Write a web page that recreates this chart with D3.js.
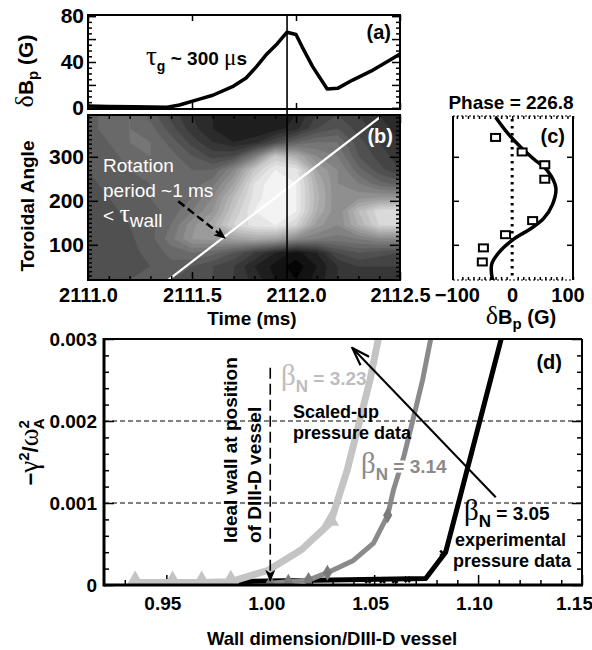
<!DOCTYPE html>
<html><head><meta charset="utf-8">
<script src="https://cdn.jsdelivr.net/npm/d3@7"></script>
<style>
body{margin:0;background:#fff;}
</style></head><body>
<svg id="fig" width="592" height="650" xmlns="http://www.w3.org/2000/svg"></svg>
<script>
// ================= DATA =================
// Panel (a): perturbed poloidal field vs time
const aTime  = [2111.00, 2111.10, 2111.22, 2111.38, 2111.44, 2111.54, 2111.60, 2111.70, 2111.76, 2111.81, 2111.86, 2111.91, 2111.957, 2112.00, 2112.03, 2112.08, 2112.15, 2112.20, 2112.27, 2112.36, 2112.45, 2112.50];
const aField = [1.6, 1.2, 0.9, 0.6, 2.5, 7.8, 11, 19, 26, 36, 47, 56, 66, 64, 53, 36, 16.5, 17, 24, 32, 41.5, 47];
const aYTicks = [0, 40, 80];
const timeTicks = [2111.0, 2111.5, 2112.0, 2112.5];
const markTime = 2111.957;

// Panel (b): contour map of dBp (normalised) vs time and toroidal angle
const bTimes  = [2111.0, 2111.1, 2111.2, 2111.3, 2111.4, 2111.5, 2111.6, 2111.7, 2111.8, 2111.9, 2112.0, 2112.1, 2112.2, 2112.3, 2112.4, 2112.5];
const bAngles = [20, 51.25, 82.5, 113.75, 145, 176.25, 207.5, 238.75, 270, 301.25, 332.5, 363.75, 395];
const bLevels = [
  [0.33,0.34,0.35,0.35,0.35,0.32,0.30,0.25,0.18,0.10,0.05,0.12,0.20,0.22,0.22,0.22],
  [0.32,0.33,0.34,0.35,0.38,0.35,0.30,0.25,0.15,0.08,0.02,0.10,0.20,0.25,0.25,0.25],
  [0.30,0.32,0.34,0.36,0.42,0.45,0.42,0.35,0.25,0.15,0.08,0.15,0.30,0.35,0.32,0.30],
  [0.30,0.32,0.34,0.38,0.48,0.60,0.62,0.65,0.68,0.65,0.55,0.50,0.48,0.50,0.55,0.55],
  [0.32,0.33,0.35,0.38,0.45,0.58,0.68,0.85,0.92,0.95,0.85,0.62,0.55,0.70,0.85,0.85],
  [0.32,0.34,0.36,0.38,0.42,0.50,0.60,0.80,0.95,1.00,0.95,0.70,0.55,0.75,0.88,0.90],
  [0.33,0.35,0.37,0.40,0.42,0.45,0.55,0.75,0.92,1.00,0.95,0.72,0.55,0.58,0.60,0.60],
  [0.34,0.36,0.38,0.40,0.42,0.42,0.48,0.65,0.90,1.00,0.95,0.70,0.55,0.50,0.42,0.38],
  [0.35,0.38,0.40,0.42,0.42,0.40,0.40,0.55,0.80,0.95,0.92,0.65,0.55,0.42,0.32,0.25],
  [0.36,0.38,0.42,0.45,0.42,0.35,0.28,0.30,0.50,0.80,0.70,0.55,0.50,0.35,0.28,0.22],
  [0.36,0.40,0.45,0.45,0.38,0.28,0.20,0.15,0.18,0.30,0.40,0.45,0.45,0.32,0.25,0.20],
  [0.38,0.42,0.45,0.42,0.32,0.22,0.15,0.10,0.10,0.12,0.18,0.30,0.35,0.28,0.22,0.18],
  [0.38,0.42,0.45,0.38,0.28,0.20,0.15,0.10,0.10,0.12,0.15,0.25,0.30,0.25,0.20,0.15]
];
const angleTicks = [100, 200, 300];
const rotLineTime  = [2111.385, 2112.404];
const rotLineAngle = [20, 390];
const rotArrowTime  = [2111.434, 2111.659];
const rotArrowAngle = [199, 115];

// Panel (c): probe signals vs toroidal angle with sinusoid fit
const cProbeAngle = [344, 311, 282, 249, 155, 123, 93, 61];
const cProbeField = [-30, 18, 59, 59, 37, -12, -52, -54];
const cFitAngle = [15, 31, 56, 84, 114, 137, 160, 192, 229, 268, 295, 321, 352, 390];
const cFitField = [-34, -37, -37, -23, 4, 34, 57, 73, 79, 64, 39, 16, -7, -30];
const cXTicks = [-100, 0, 100];

// Panel (d): growth rate vs wall position
const d323X = [0.935, 0.953, 0.967, 0.981, 0.999, 1.015, 1.029, 1.037, 1.043, 1.048, 1.052];
const d323Y = [0.00003, 0.00003, 0.00003, 0.00004, 0.00018, 0.00043, 0.00076, 0.0014, 0.0020, 0.0025, 0.0030];
const d323Marks = [0, 1, 2, 3, 6];
const d314X = [1.000, 1.0087, 1.0184, 1.0275, 1.040, 1.0497, 1.0565, 1.0593, 1.0642, 1.069, 1.0733, 1.0772];
const d314Y = [0.00002, 0.00004, 0.00006, 0.00015, 0.0003, 0.00051, 0.00085, 0.00116, 0.00156, 0.00205, 0.0025, 0.003];
const d314Marks = [0, 1, 2, 3, 6];
const d305X = [0.935, 1.0748, 1.0844, 1.1111];
const d305Y = [0.00002, 0.00008, 0.0004, 0.003];
const d305MarkX = [1.047, 1.054, 1.060, 1.066, 1.083];
const d305MarkY = [0.00002, 0.00002, 0.00002, 0.00003, 0.00035];
const dXTicks = [0.95, 1.00, 1.05, 1.10, 1.15];
const dYTicks = [0, 0.001, 0.002, 0.003];
const dGrid = [0.001, 0.002];
const wallX = 1.00, wallTop = 0.00265, wallBottom = 0.00005;
const scaleArrowX = [1.1085, 1.0395], scaleArrowY = [0.00107, 0.00289];

// ================= SETUP =================
const FONT = '"Liberation Sans", Arial, Helvetica, sans-serif';
const SERIF = '"Liberation Serif", "Times New Roman", serif';
const svg = d3.select("#fig");
svg.append("rect").attr("width", 592).attr("height", 650).attr("fill", "#fff");

const A = {l: 88, r: 400, t: 15, b: 109};
const B = {l: 88, r: 400, t: 115, b: 280};
const C = {l: 453, r: 573, t: 116, b: 280};
const D = {l: 104, r: 582, t: 339, b: 585};

const xT = d3.scaleLinear().domain([2111.0, 2112.5]).range([A.l, A.r]);
const yA = d3.scaleLinear().domain([-1, 81]).range([A.b, A.t]);
const yB = d3.scaleLinear().domain([20, 395]).range([B.b, B.t]);
const xC = d3.scaleLinear().domain([-107, 110]).range([C.l, C.r]);
const yC = d3.scaleLinear().domain([20, 395]).range([280, 115]);
const xD = d3.scaleLinear().domain([0.92, 1.15]).range([D.l, D.r]);
const yD = d3.scaleLinear().domain([0, 0.003]).range([D.b, D.t]);

const defs = svg.append("defs");
function clip(id, box) {
  defs.append("clipPath").attr("id", id).append("rect")
    .attr("x", box.l).attr("y", box.t).attr("width", box.r - box.l).attr("height", box.b - box.t);
}
clip("clipA", A); clip("clipB", B); clip("clipC", C); clip("clipD", D);
defs.append("marker").attr("id", "headFill").attr("viewBox", "0 0 12 10")
  .attr("refX", 11).attr("refY", 5).attr("markerWidth", 12).attr("markerHeight", 10)
  .attr("markerUnits", "userSpaceOnUse").attr("orient", "auto")
  .append("path").attr("d", "M0,0 L12,5 L0,10 L3,5 Z").attr("fill", "#000");
defs.append("marker").attr("id", "headOpen").attr("viewBox", "0 0 20 14")
  .attr("refX", 19).attr("refY", 7).attr("markerWidth", 20).attr("markerHeight", 14)
  .attr("markerUnits", "userSpaceOnUse").attr("orient", "auto")
  .append("path").attr("d", "M1,1 L19,7 L1,13").attr("fill", "none").attr("stroke", "#000").attr("stroke-width", 2.2);

function range(a, b, s) { const out = []; for (let v = a; v <= b + s * 1e-6; v += s) out.push(+v.toFixed(6)); return out; }
function minus(arr, ex) { return arr.filter(v => !ex.some(e => Math.abs(e - v) < 1e-9)); }

function axis(gen, tx, ty, fs) {
  const g = svg.append("g").attr("transform", `translate(${tx},${ty})`).call(gen);
  g.attr("font-family", FONT).attr("font-size", fs || 10).attr("font-weight", "bold");
  g.select(".domain").remove();
  g.selectAll(".tick line").attr("stroke", "#000").attr("stroke-width", 1.5);
  g.selectAll(".tick text").attr("fill", "#000");
  return g;
}

// ================= PANEL (a) =================
const aMinorY = minus(range(0, 80, 5), range(0, 80, 20));
const tMinor = minus(range(2111.0, 2112.5, 0.1), timeTicks);
axis(d3.axisLeft(yA).tickValues(aYTicks).tickSize(-8).tickPadding(4).tickFormat(d3.format("d")), A.l, 0, 21);
axis(d3.axisLeft(yA).tickValues([20, 60]).tickSize(-8).tickFormat(""), A.l, 0);
axis(d3.axisLeft(yA).tickValues(aMinorY).tickSize(-4).tickFormat(""), A.l, 0);
axis(d3.axisRight(yA).tickValues(range(0, 80, 20)).tickSize(-8).tickFormat(""), A.r, 0);
axis(d3.axisRight(yA).tickValues(aMinorY).tickSize(-4).tickFormat(""), A.r, 0);
axis(d3.axisTop(xT).tickValues(timeTicks).tickSize(-6).tickFormat(""), 0, A.t);
axis(d3.axisBottom(xT).tickValues(timeTicks).tickSize(-6).tickFormat(""), 0, A.b);

svg.append("path").datum(aTime.map((t, i) => [t, aField[i]]))
  .attr("clip-path", "url(#clipA)")
  .attr("d", d3.line().x(d => xT(d[0])).y(d => yA(d[1])))
  .attr("fill", "none").attr("stroke", "#000").attr("stroke-width", 3.5).attr("stroke-linejoin", "round");

svg.append("rect").attr("x", A.l).attr("y", A.t).attr("width", A.r - A.l).attr("height", A.b - A.t)
  .attr("fill", "none").attr("stroke", "#000").attr("stroke-width", 2);

{
  const t = svg.append("text").attr("x", 146).attr("y", 65).attr("fill", "#000");
  t.append("tspan").attr("font-family", SERIF).attr("font-size", 27).text("τ");
  t.append("tspan").attr("font-family", FONT).attr("font-weight", "bold").attr("font-size", 14).attr("dy", 6).text("g");
  t.append("tspan").attr("font-family", FONT).attr("font-weight", "bold").attr("font-size", 19).attr("dy", -6).text(" ~ 300 ");
  t.append("tspan").attr("font-family", SERIF).attr("font-size", 23).text("μ");
  t.append("tspan").attr("font-family", FONT).attr("font-weight", "bold").attr("font-size", 19).text("s");
}
svg.append("text").attr("x", 391).attr("y", 39).attr("text-anchor", "end")
  .attr("font-family", FONT).attr("font-weight", "bold").attr("font-size", 20).text("(a)");
{
  const t = svg.append("text").attr("transform", "translate(33,71) rotate(-90)").attr("text-anchor", "middle");
  t.append("tspan").attr("font-family", SERIF).attr("font-size", 26).text("δ");
  t.append("tspan").attr("font-family", FONT).attr("font-weight", "bold").attr("font-size", 21).text("B");
  t.append("tspan").attr("font-family", FONT).attr("font-weight", "bold").attr("font-size", 15).attr("dy", 5).text("p");
  t.append("tspan").attr("font-family", FONT).attr("font-weight", "bold").attr("font-size", 21).attr("dy", -5).text(" (G)");
}

// ================= PANEL (b) =================
{
  const nx = bTimes.length, ny = bAngles.length;
  const flat = [];
  for (let j = 0; j < ny; j++) for (let i = 0; i < nx; i++) flat.push(bLevels[j][i]);
  const dt = bTimes[1] - bTimes[0], da = bAngles[1] - bAngles[0];
  const thr = range(0, 1.0, 0.05);
  const cs = d3.contours().size([nx, ny]).thresholds(thr)(flat);
  const proj = d3.geoTransform({point(x, y) { this.stream.point(xT(bTimes[0] + (x - 0.5) * dt), yB(bAngles[0] + (y - 0.5) * da)); }});
  const path = d3.geoPath(proj);
  const gray = v => { const g = Math.round(Math.min(250, 5 + v * 250)); return `rgb(${g},${g},${g})`; };
  const gb = svg.append("g").attr("clip-path", "url(#clipB)");
  gb.append("rect").attr("x", B.l).attr("y", B.t).attr("width", B.r - B.l).attr("height", B.b - B.t).attr("fill", gray(0.3));
  gb.selectAll("path.ct").data(cs).join("path").attr("class", "ct")
    .attr("d", path).attr("fill", d => gray(d.value)).attr("stroke", d => gray(d.value)).attr("stroke-width", 0.6);
  gb.append("line")
    .attr("x1", xT(rotLineTime[0])).attr("y1", yB(rotLineAngle[0]))
    .attr("x2", xT(rotLineTime[1])).attr("y2", yB(rotLineAngle[1]))
    .attr("stroke", "#fff").attr("stroke-width", 2.2);
}
svg.append("line")
  .attr("x1", xT(rotArrowTime[0])).attr("y1", yB(rotArrowAngle[0]))
  .attr("x2", xT(rotArrowTime[1])).attr("y2", yB(rotArrowAngle[1]))
  .attr("stroke", "#000").attr("stroke-width", 2.5).attr("stroke-dasharray", "8,4")
  .attr("marker-end", "url(#headFill)");

const angMinor = minus(range(30, 390, 10), angleTicks);
axis(d3.axisLeft(yB).tickValues(angleTicks).tickSize(-10).tickPadding(4).tickFormat(d3.format("d")), B.l, 0, 21);
axis(d3.axisLeft(yB).tickValues(angMinor).tickSize(-4).tickFormat(""), B.l, 0);
axis(d3.axisRight(yB).tickValues(angleTicks).tickSize(-10).tickFormat(""), B.r, 0);
axis(d3.axisRight(yB).tickValues(angMinor).tickSize(-4).tickFormat(""), B.r, 0);
axis(d3.axisBottom(xT).tickValues(timeTicks).tickSize(-8).tickPadding(8).tickFormat(d3.format(".1f")), 0, B.b, 20);
axis(d3.axisBottom(xT).tickValues(tMinor).tickSize(-4).tickFormat(""), 0, B.b);
axis(d3.axisTop(xT).tickValues(timeTicks).tickSize(-8).tickFormat(""), 0, B.t);
axis(d3.axisTop(xT).tickValues(tMinor).tickSize(-4).tickFormat(""), 0, B.t);

svg.append("rect").attr("x", B.l).attr("y", B.t).attr("width", B.r - B.l).attr("height", B.b - B.t)
  .attr("fill", "none").attr("stroke", "#000").attr("stroke-width", 2);

// vertical time marker through (a) and (b)
svg.append("line").attr("x1", xT(markTime)).attr("x2", xT(markTime)).attr("y1", A.t).attr("y2", B.b)
  .attr("stroke", "#000").attr("stroke-width", 1.6);

{
  const t = svg.append("text").attr("font-family", FONT).attr("font-size", 19).attr("fill", "#fff");
  t.append("tspan").attr("x", 103).attr("y", 172).text("Rotation");
  t.append("tspan").attr("x", 103).attr("y", 197).text("period ~1 ms");
  t.append("tspan").attr("x", 103).attr("y", 222).text("< ");
  t.append("tspan").attr("font-family", SERIF).attr("font-size", 26).text("τ");
  t.append("tspan").attr("dy", 5).text("wall");
}
svg.append("text").attr("x", 393).attr("y", 143).attr("text-anchor", "end").attr("fill", "#fff")
  .attr("font-family", FONT).attr("font-weight", "bold").attr("font-size", 20).text("(b)");
svg.append("text").attr("transform", "translate(34,206) rotate(-90)").attr("text-anchor", "middle")
  .attr("font-family", FONT).attr("font-weight", "bold").attr("font-size", 19).text("Toroidal Angle");
svg.append("text").attr("x", 252).attr("y", 325).attr("text-anchor", "middle")
  .attr("font-family", FONT).attr("font-weight", "bold").attr("font-size", 19).text("Time (ms)");

// ================= PANEL (c) =================
svg.append("line").attr("x1", xC(0)).attr("x2", xC(0)).attr("y1", C.t + 3).attr("y2", C.b - 3)
  .attr("stroke", "#000").attr("stroke-width", 3).attr("stroke-dasharray", "2.5,4.5");
svg.append("path").datum(cFitAngle.map((a, i) => [cFitField[i], a]))
  .attr("clip-path", "url(#clipC)")
  .attr("d", d3.line().curve(d3.curveCatmullRom).x(d => xC(d[0])).y(d => yC(d[1])))
  .attr("fill", "none").attr("stroke", "#000").attr("stroke-width", 3.5);
svg.selectAll("rect.probe").data(cProbeAngle).join("rect").attr("class", "probe")
  .attr("x", (d, i) => xC(cProbeField[i]) - 4.5).attr("y", d => yC(d) - 3.5)
  .attr("width", 9).attr("height", 7).attr("fill", "#fff").attr("stroke", "#000").attr("stroke-width", 2);

const cMinor = minus(range(-100, 110, 10), cXTicks);
axis(d3.axisBottom(xC).tickValues(cXTicks).tickSize(0).tickPadding(8).tickFormat(d => d < 0 ? "−" + Math.abs(d) : d), 0, C.b, 20);
axis(d3.axisBottom(xC).tickValues(cMinor).tickSize(-3).tickFormat(""), 0, C.b);
axis(d3.axisTop(xC).tickValues(cMinor.concat(cXTicks)).tickSize(-3).tickFormat(""), 0, C.t);
axis(d3.axisLeft(yC).tickValues(angleTicks).tickSize(-6).tickFormat(""), C.l, 0);
axis(d3.axisRight(yC).tickValues(angleTicks).tickSize(-6).tickFormat(""), C.r, 0);
svg.append("line").attr("x1", C.l).attr("x2", C.r).attr("y1", C.t).attr("y2", C.t).attr("stroke", "#000").attr("stroke-width", 1).attr("stroke-dasharray", "2,2");
svg.append("line").attr("x1", C.l).attr("x2", C.r).attr("y1", C.b).attr("y2", C.b).attr("stroke", "#000").attr("stroke-width", 1).attr("stroke-dasharray", "2,2");
svg.append("line").attr("x1", C.l).attr("x2", C.l).attr("y1", C.t).attr("y2", C.b).attr("stroke", "#000").attr("stroke-width", 2);
svg.append("line").attr("x1", C.r).attr("x2", C.r).attr("y1", C.t).attr("y2", C.b).attr("stroke", "#000").attr("stroke-width", 2);

svg.append("text").attr("x", 565).attr("y", 143).attr("text-anchor", "end")
  .attr("font-family", FONT).attr("font-weight", "bold").attr("font-size", 20).text("(c)");
svg.append("text").attr("x", 511).attr("y", 109).attr("text-anchor", "middle")
  .attr("font-family", FONT).attr("font-weight", "bold").attr("font-size", 19).text("Phase = 226.8");
{
  const t = svg.append("text").attr("x", 521).attr("y", 324).attr("text-anchor", "middle");
  t.append("tspan").attr("font-family", SERIF).attr("font-size", 26).text("δ");
  t.append("tspan").attr("font-family", FONT).attr("font-weight", "bold").attr("font-size", 20).text("B");
  t.append("tspan").attr("font-family", FONT).attr("font-weight", "bold").attr("font-size", 15).attr("dy", 5).text("p");
  t.append("tspan").attr("font-family", FONT).attr("font-weight", "bold").attr("font-size", 20).attr("dy", -5).text(" (G)");
}

// ================= PANEL (d) =================
svg.selectAll("line.dgrid").data(dGrid).join("line").attr("class", "dgrid")
  .attr("x1", D.l).attr("x2", D.r).attr("y1", d => yD(d)).attr("y2", d => yD(d))
  .attr("stroke", "#000").attr("stroke-width", 1).attr("stroke-dasharray", "5,3");

const dMinorY = minus(range(0, 0.003, 0.0002), dYTicks);
const dMinorX = minus(range(0.93, 1.15, 0.01), dXTicks);
axis(d3.axisLeft(yD).tickValues(dYTicks).tickSize(-10).tickPadding(7).tickFormat(d => d === 0 ? "0" : d3.format(".3f")(d)), D.l, 0, 19);
axis(d3.axisLeft(yD).tickValues(dMinorY).tickSize(-5).tickFormat(""), D.l, 0);
axis(d3.axisRight(yD).tickValues(dYTicks).tickSize(-10).tickFormat(""), D.r, 0);
axis(d3.axisRight(yD).tickValues(dMinorY).tickSize(-5).tickFormat(""), D.r, 0);
const dxAx = axis(d3.axisBottom(xD).tickValues(dXTicks).tickSize(-10).tickPadding(12).tickFormat(d3.format(".2f")), 0, D.b, 19);
dxAx.selectAll(".tick text").attr("dx", (d, i) => i === dXTicks.length - 1 ? -8 : -4);
axis(d3.axisBottom(xD).tickValues(dMinorX).tickSize(-5).tickFormat(""), 0, D.b);

const dLine = d3.line().x(d => xD(d[0])).y(d => yD(d[1]));
const gD = svg.append("g").attr("clip-path", "url(#clipD)");
gD.append("path").datum(d305X.map((x, i) => [x, d305Y[i]])).attr("d", dLine)
  .attr("fill", "none").attr("stroke", "#000").attr("stroke-width", 5).attr("stroke-linejoin", "round");
gD.append("path").datum(d323X.map((x, i) => [x, d323Y[i]])).attr("d", dLine)
  .attr("fill", "none").attr("stroke", "#c4c4c4").attr("stroke-width", 7).attr("stroke-linejoin", "round");
gD.append("path").datum(d314X.map((x, i) => [x, d314Y[i]])).attr("d", dLine)
  .attr("fill", "none").attr("stroke", "#8a8a8a").attr("stroke-width", 5).attr("stroke-linejoin", "round");
gD.selectAll("path.m323").data(d323Marks).join("path").attr("class", "m323")
  .attr("transform", i => `translate(${xD(d323X[i])},${yD(d323Y[i]) - 2})`)
  .attr("d", d3.symbol(d3.symbolTriangle, 130)).attr("fill", "#c4c4c4");
gD.selectAll("path.m314").data(d314Marks).join("path").attr("class", "m314")
  .attr("transform", i => `translate(${xD(d314X[i])},${yD(d314Y[i])})`)
  .attr("d", d3.symbol(d3.symbolDiamond, 75)).attr("fill", "#7a7a7a");
gD.selectAll("path.m305").data(d305MarkX).join("path").attr("class", "m305")
  .attr("transform", (d, i) => `translate(${xD(d)},${yD(d305MarkY[i]) - 3}) rotate(45)`)
  .attr("d", d3.symbol(d3.symbolCross, 30)).attr("fill", "#000");

// ideal-wall dashed arrow
svg.append("line").attr("x1", xD(wallX)).attr("x2", xD(wallX)).attr("y1", yD(wallTop)).attr("y2", yD(wallBottom))
  .attr("stroke", "#000").attr("stroke-width", 1.6).attr("stroke-dasharray", "11,5")
  .attr("marker-end", "url(#headFill)");
// scaled-up arrow
svg.append("line").attr("x1", xD(scaleArrowX[0])).attr("y1", yD(scaleArrowY[0]))
  .attr("x2", xD(scaleArrowX[1])).attr("y2", yD(scaleArrowY[1]))
  .attr("stroke", "#000").attr("stroke-width", 2).attr("marker-end", "url(#headOpen)");

// axes frame
svg.append("line").attr("x1", D.l).attr("x2", D.r).attr("y1", D.t).attr("y2", D.t).attr("stroke", "#000").attr("stroke-width", 2);
svg.append("line").attr("x1", D.r).attr("x2", D.r).attr("y1", D.t).attr("y2", D.b).attr("stroke", "#000").attr("stroke-width", 2);
svg.append("line").attr("x1", D.l).attr("x2", D.l).attr("y1", D.t - 1).attr("y2", D.b + 1.5).attr("stroke", "#000").attr("stroke-width", 3);
svg.append("line").attr("x1", D.l).attr("x2", D.r + 1).attr("y1", D.b).attr("y2", D.b).attr("stroke", "#000").attr("stroke-width", 3);

function betaLabel(x, y, val, color, halo) {
  const t = svg.append("text").attr("x", x).attr("y", y).attr("fill", color);
  if (halo) t.attr("stroke", "#fff").attr("stroke-width", 5).attr("paint-order", "stroke").attr("stroke-linejoin", "round");
  t.append("tspan").attr("font-family", SERIF).attr("font-size", 29).text("β");
  t.append("tspan").attr("font-family", FONT).attr("font-weight", "bold").attr("font-size", 17).attr("dy", 7).text("N");
  t.append("tspan").attr("font-family", FONT).attr("font-weight", "bold").attr("font-size", 19).attr("dy", -7).text(" = " + val);
}
betaLabel(281, 385, "3.23", "#bdbdbd", false);
betaLabel(361, 473, "3.14", "#8a8a8a", true);
betaLabel(464, 520, "3.05", "#000", false);

function twoLines(x1, y1, s1, x2, y2, s2) {
  const t = svg.append("text").attr("font-family", FONT).attr("font-weight", "bold").attr("font-size", 18).attr("fill", "#000");
  t.append("tspan").attr("x", x1).attr("y", y1).text(s1);
  t.append("tspan").attr("x", x2).attr("y", y2).text(s2);
}
twoLines(293, 418, "Scaled-up", 293, 439, "pressure data");
twoLines(455, 546, "experimental", 453, 567, "pressure data");
svg.append("text").attr("x", 562).attr("y", 369).attr("text-anchor", "end")
  .attr("font-family", FONT).attr("font-weight", "bold").attr("font-size", 20).text("(d)");
svg.append("text").attr("transform", "translate(237,543) rotate(-90)")
  .attr("font-family", FONT).attr("font-weight", "bold").attr("font-size", 19).text("Ideal wall at position");
svg.append("text").attr("transform", "translate(261,543) rotate(-90)")
  .attr("font-family", FONT).attr("font-weight", "bold").attr("font-size", 19).text("of DIII-D vessel");
{
  const t = svg.append("text").attr("transform", "translate(38,452) rotate(-90)").attr("text-anchor", "middle");
  t.append("tspan").attr("font-family", FONT).attr("font-weight", "bold").attr("font-size", 22).text("−");
  t.append("tspan").attr("font-family", SERIF).attr("font-size", 27).text("γ");
  t.append("tspan").attr("font-family", FONT).attr("font-weight", "bold").attr("font-size", 15).attr("dy", -9).text("2");
  t.append("tspan").attr("font-family", FONT).attr("font-weight", "bold").attr("font-size", 22).attr("dy", 9).text("/");
  t.append("tspan").attr("font-family", SERIF).attr("font-size", 27).text("ω");
  t.append("tspan").attr("font-family", FONT).attr("font-weight", "bold").attr("font-size", 15).attr("dy", -9).text("2");
  t.append("tspan").attr("font-family", FONT).attr("font-weight", "bold").attr("font-size", 15).attr("dx", -9).attr("dy", 15).text("A");
}
svg.append("text").attr("x", 332).attr("y", 645).attr("text-anchor", "middle")
  .attr("font-family", FONT).attr("font-weight", "bold").attr("font-size", 18.5).text("Wall dimension/DIII-D vessel");
</script></body></html>
